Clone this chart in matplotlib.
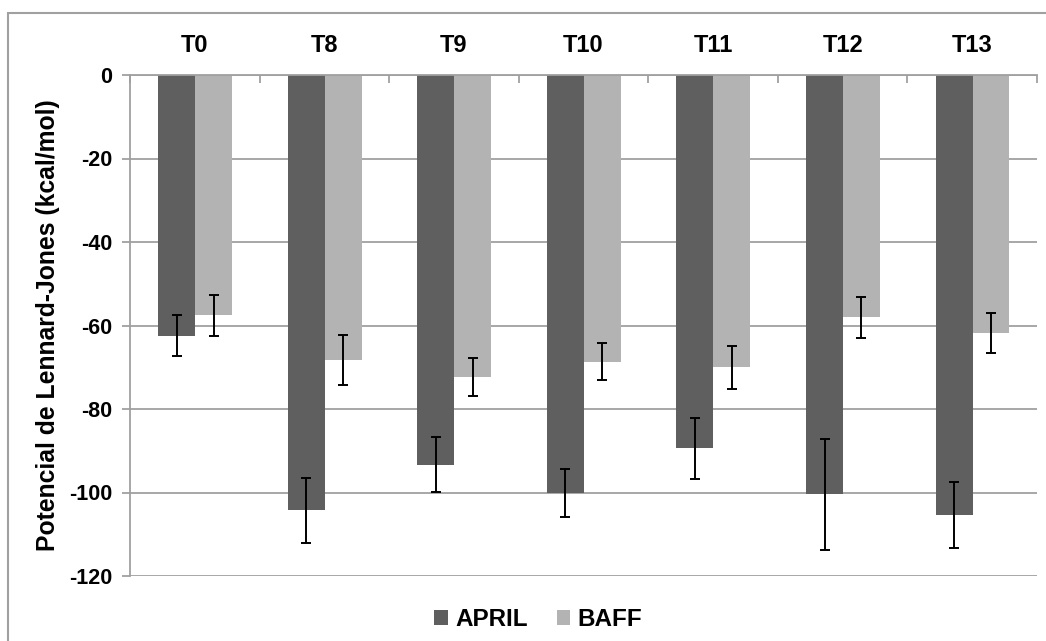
import matplotlib
matplotlib.use("Agg")
import matplotlib.pyplot as plt
import numpy as np
from matplotlib.patches import Rectangle

categories = ["T0", "T8", "T9", "T10", "T11", "T12", "T13"]
april = [-62.5, -104.3, -93.3, -100.1, -89.4, -100.4, -105.4]
april_err = [4.9, 7.8, 6.5, 5.8, 7.3, 13.3, 7.8]
baff = [-57.6, -68.3, -72.3, -68.7, -70.0, -58.0, -61.8]
baff_err = [4.9, 6.0, 4.6, 4.4, 5.1, 4.9, 4.7]
yticks = [0, -20, -40, -60, -80, -100, -120]

plt.rcParams['font.family'] = ['Liberation Sans', 'DejaVu Sans']

fig = plt.figure(figsize=(10.46, 6.41), dpi=100)
ax = fig.add_axes([130/1046, 1-576/641, (1037-130)/1046, (576-75)/641])

x = np.arange(len(categories))
w = 0.285
grid_c = "#a0a0a0"
ax.bar(x - 0.14, april, w, color="#5f5f5f", label="APRIL", zorder=2)
ax.bar(x + 0.145, baff, w, color="#b3b3b3", label="BAFF", zorder=2)
ax.errorbar(x - 0.14, april, yerr=april_err, fmt="none", ecolor="black",
            elinewidth=1.4, capsize=3.4, capthick=1.4, zorder=3)
ax.errorbar(x + 0.145, baff, yerr=baff_err, fmt="none", ecolor="black",
            elinewidth=1.4, capsize=3.4, capthick=1.4, zorder=3)

ax.set_xlim(-0.5, len(categories) - 0.5)
ax.set_ylim(-120, 0)
ax.set_yticks(yticks)
ax.set_yticklabels([str(v) for v in yticks], fontsize=15.5, fontweight="bold")
ax.yaxis.grid(True, color=grid_c, linewidth=1.3, zorder=0)
ax.set_axisbelow(True)

ax.xaxis.tick_top()
ax.set_xticks(x)
ax.set_xticklabels(categories, fontsize=17, fontweight="bold")
ax.tick_params(axis="x", which="major", length=0, pad=13)
ax.set_xticks(np.arange(-0.5, len(categories)), minor=True)
ax.tick_params(axis="x", which="minor", length=6, direction="in",
               color=grid_c, width=1.3, top=True, bottom=False)
ax.tick_params(axis="y", length=6, color=grid_c, width=1.3, pad=7)

for s in ["right", "bottom"]:
    ax.spines[s].set_visible(False)
for s in ["left", "top"]:
    ax.spines[s].set_color(grid_c)
    ax.spines[s].set_linewidth(1.3)

ax.set_ylabel("Potencial de Lennard-Jones (kcal/mol)", fontsize=17.8,
              fontweight="bold", labelpad=6)

ax.legend(loc="upper center", bbox_to_anchor=(0.45, -0.02), ncol=2,
          frameon=False, prop={"weight": "bold", "size": 17.5},
          handlelength=0.55, handleheight=0.55, handletextpad=0.3,
          columnspacing=1.2)

fig.patches.append(Rectangle((8/1046, -0.1), 1.2, 1 - 13/641 + 0.1,
                             transform=fig.transFigure, fill=False,
                             edgecolor=grid_c, linewidth=1.5))

fig.savefig("out.png", dpi=100)
